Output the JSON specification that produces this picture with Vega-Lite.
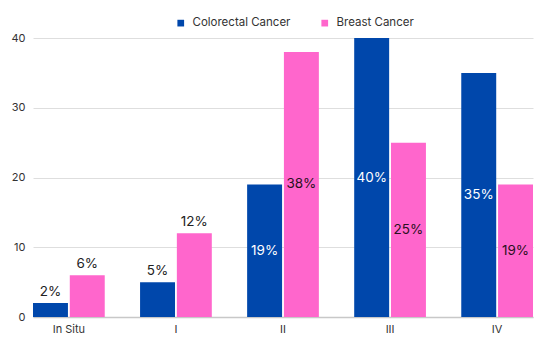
{
  "$schema": "https://vega.github.io/schema/vega-lite/v6.json",
  "width": 500,
  "height": 279,
  "autosize": "none",
  "padding": {"left": 33, "top": 38, "right": 17, "bottom": 28},
  "background": "white",
  "config": {
    "font": "Inter",
    "view": {"stroke": null},
    "axis": {"labelFont": "Inter", "labelColor": "#333333", "labelFontSize": 11}
  },
  "data": {
    "values": [
      {"stage": "In Situ", "series": "Colorectal Cancer", "value": 2},
      {"stage": "In Situ", "series": "Breast Cancer", "value": 6},
      {"stage": "I", "series": "Colorectal Cancer", "value": 5},
      {"stage": "I", "series": "Breast Cancer", "value": 12},
      {"stage": "II", "series": "Colorectal Cancer", "value": 19},
      {"stage": "II", "series": "Breast Cancer", "value": 38},
      {"stage": "III", "series": "Colorectal Cancer", "value": 40},
      {"stage": "III", "series": "Breast Cancer", "value": 25},
      {"stage": "IV", "series": "Colorectal Cancer", "value": 35},
      {"stage": "IV", "series": "Breast Cancer", "value": 19}
    ]
  },
  "transform": [
    {"calculate": "datum.value / 2", "as": "mid"},
    {"calculate": "datum.value + '%'", "as": "label"}
  ],
  "encoding": {
    "x": {
      "field": "stage",
      "type": "nominal",
      "sort": ["In Situ", "I", "II", "III", "IV"],
      "scale": {"paddingInner": 0.33, "paddingOuter": 0},
      "axis": {
        "title": null,
        "labelAngle": 0,
        "ticks": false,
        "domainColor": "#c8c8c8",
        "domainWidth": 1.5,
        "labelPadding": 6
      }
    },
    "xOffset": {
      "field": "series",
      "type": "nominal",
      "sort": ["Colorectal Cancer", "Breast Cancer"],
      "scale": {"paddingInner": 0.05}
    }
  },
  "layer": [
    {
      "mark": {"type": "bar"},
      "encoding": {
        "y": {
          "field": "value",
          "type": "quantitative",
          "scale": {"domain": [0, 40], "nice": false},
          "axis": {
            "title": null,
            "values": [0, 10, 20, 30, 40],
            "domain": false,
            "ticks": false,
            "gridColor": "#dedede",
            "labelPadding": 8
          }
        },
        "color": {
          "field": "series",
          "type": "nominal",
          "scale": {"domain": ["Colorectal Cancer", "Breast Cancer"], "range": ["#0047AB", "#FF66CC"]},
          "legend": {
            "title": null,
            "orient": "none",
            "legendX": 142,
            "legendY": -21,
            "direction": "horizontal",
            "symbolType": "square",
            "symbolSize": 45,
            "symbolStrokeWidth": 0,
            "labelFontSize": 11.5,
            "labelColor": "#333333",
            "columnPadding": 28,
            "labelOffset": 6
          }
        }
      }
    },
    {
      "transform": [{"filter": "datum.value < 15"}],
      "mark": {"type": "text", "baseline": "bottom", "dy": -4, "fontSize": 13.5, "color": "#222222"},
      "encoding": {
        "y": {"field": "value", "type": "quantitative"},
        "text": {"field": "label"}
      }
    },
    {
      "transform": [{"filter": "datum.value >= 15"}],
      "mark": {"type": "text", "baseline": "middle", "fontSize": 13.5},
      "encoding": {
        "y": {"field": "mid", "type": "quantitative"},
        "text": {"field": "label"},
        "color": {
          "field": "series",
          "type": "nominal",
          "scale": {"domain": ["Colorectal Cancer", "Breast Cancer"], "range": ["#ffffff", "#2a1020"]},
          "legend": null
        }
      }
    }
  ],
  "resolve": {"scale": {"color": "independent"}}
}
